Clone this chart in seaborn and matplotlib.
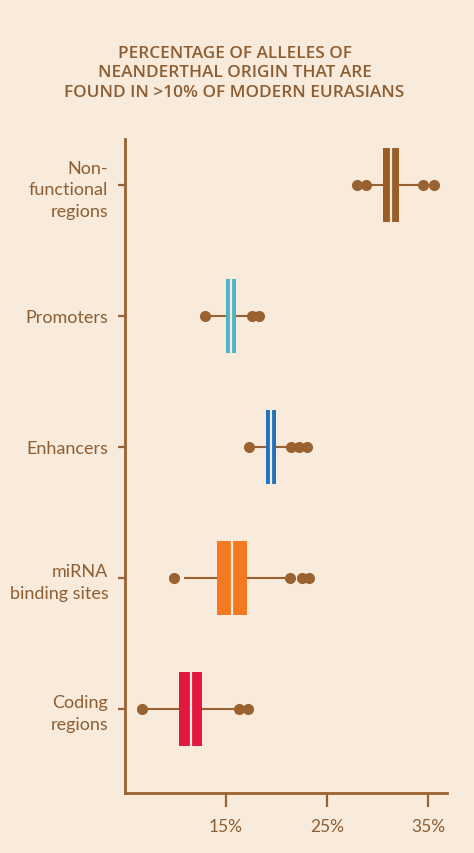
import numpy as np
import pandas as pd
import matplotlib
matplotlib.use("Agg")
import matplotlib.pyplot as plt
import seaborn as sns

# ---- data (percent) ----
categories = ["Non-\nfunctional\nregions", "Promoters", "Enhancers",
              "miRNA\nbinding sites", "Coding\nregions"]
whisker_lo = [28.86, 12.92, 17.28, 10.87, 6.65]
q1 = [30.57, 14.97, 18.93, 14.14, 10.38]
median = [31.37, 15.47, 19.44, 15.56, 11.50]
q3 = [32.16, 15.96, 19.95, 17.05, 12.66]
whisker_hi = [34.48, 17.60, 21.41, 21.00, 16.32]
outliers = [
    [28.00, 28.86, 34.48, 35.62],
    [12.92, 17.60, 18.30],
    [17.28, 21.41, 22.23, 23.05],
    [9.88, 21.34, 22.50, 23.25],
    [6.65, 16.32, 17.15],
]
tick_values = [15, 25, 35]
tick_labels = ["15%", "25%", "35%"]
title = "PERCENTAGE OF ALLELES OF\nNEANDERTHAL ORIGIN THAT ARE\nFOUND IN >10% OF MODERN EURASIANS"

# ---- styling ----
BG = "#F8EBDC"
BROWN = "#9A6131"
TEXT = "#8E5E33"
box_colors = ["#9B5C26", "#4BB5C5", "#1E72BE", "#F47920", "#E3183F"]

sns.set_style("white")
plt.rcParams["font.family"] = ["Lato", "DejaVu Sans"]

rows = []
for c, a, b, m, d, e in zip(categories, whisker_lo, q1, median, q3, whisker_hi):
    for v in (a, b, m, d, e):
        rows.append({"category": c, "value": v})
box_df = pd.DataFrame(rows)

orows = []
for c, vals in zip(categories, outliers):
    for v in vals:
        orows.append({"category": c, "value": v})
out_df = pd.DataFrame(orows)

fig = plt.figure(figsize=(4.74, 8.54), dpi=100, facecolor=BG)
ax = fig.add_axes([0.2637, 0.0703, 0.6793, 0.7658])
ax.set_facecolor(BG)

sns.boxplot(data=box_df, x="value", y="category", hue="category",
            order=categories, hue_order=categories, palette=box_colors,
            saturation=1, orient="h", whis=(0, 100), showfliers=False,
            showcaps=False, width=0.56, linecolor=BROWN, linewidth=1.5,
            legend=False,
            boxprops=dict(linewidth=0),
            medianprops=dict(color=BG, linewidth=1.6),
            whiskerprops=dict(color=BROWN, linewidth=1.5),
            ax=ax)

sns.stripplot(data=out_df, x="value", y="category", order=categories,
              jitter=False, color=BROWN, size=8, linewidth=0, ax=ax,
              zorder=5)

ax.set_xlim(5, 36.88)
ax.set_ylim(4.641, -0.351)
ax.set_xticks(tick_values)
ax.set_xticklabels(tick_labels)
ax.set_xlabel("")
ax.set_ylabel("")

for s in ("top", "right"):
    ax.spines[s].set_visible(False)
for s in ("left", "bottom"):
    ax.spines[s].set_color(BROWN)
    ax.spines[s].set_linewidth(2)

ax.tick_params(axis="x", direction="out", length=10, width=1.6, color=BROWN,
               pad=8, labelsize=12.5, labelcolor=TEXT, bottom=True)
ax.tick_params(axis="y", direction="out", length=5, width=1.6, color=BROWN,
               pad=7, labelsize=13, labelcolor=TEXT, left=True)
for lab in ax.get_yticklabels():
    lab.set_linespacing(1.42)

fig.text(0.4947, 0.914, title, ha="center", va="center", color=TEXT,
         fontsize=12.4, fontweight="semibold", family=["Open Sans", "DejaVu Sans"],
         linespacing=1.28)

fig.savefig("out.png", dpi=100, facecolor=BG)
